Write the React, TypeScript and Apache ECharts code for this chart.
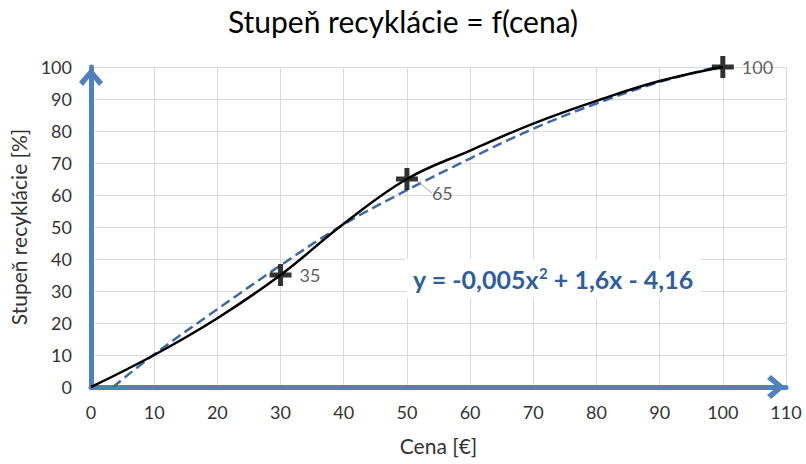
import React, { useEffect, useRef } from "react";
import * as echarts from "echarts";

const titleText = "Stupeň recyklácie = f(cena)";
const xAxisName = "Cena [€]";
const yAxisName = "Stupeň recyklácie [%]";

const curveX = [0, 10, 20, 30, 40, 50, 60, 70, 80, 90, 100];
const curveY = [0, 10, 21.5, 35, 51, 65, 73.9, 82.3, 89.4, 95.6, 100];

// points marked with "+"
const markX = [30, 50, 100];
const markY = [35, 65, 100];

// polynomial trendline
const trendX = [3.5, 10, 20, 30, 40, 50, 60, 70, 80, 90, 100];
const trendY = [0, 10.2, 24.3, 38, 50.8, 61.5, 71.4, 80.7, 88.6, 95.3, 100.5];

const equation = "y = -0,005x{s|2} + 1,6x - 4,16";

const FONT = "Lato, 'Open Sans', sans-serif";
const TEXT = "#333333";
const AXIS_BLUE = "#4F81BD";
const arrow = "path://M12,0 L24,14 L20,18 L12,8 L4,18 L0,14 Z";
const plus = "path://M8.5,0 H13.5 V8.5 H22 V13.5 H13.5 V22 H8.5 V13.5 H0 V8.5 H8.5 Z";

export default function App() {
  const ref = useRef<HTMLDivElement>(null);
  useEffect(() => {
    if (!ref.current) return;
    const chart = echarts.init(ref.current, null, { renderer: "svg" });
    const axisCommon = {
      type: "value" as const,
      axisLine: {
        show: true,
        onZero: false,
        symbol: ["none", arrow],
        symbolSize: [24, 20],
        symbolOffset: [0, -10],
        lineStyle: { color: AXIS_BLUE, width: 5 },
      },
      axisTick: { show: false },
      splitLine: { show: true, lineStyle: { color: "#d9d9d9", width: 1 } },
      axisLabel: { color: TEXT, fontSize: 18, fontFamily: FONT },
      nameTextStyle: { color: TEXT, fontSize: 21, fontFamily: FONT },
    };
    chart.setOption({
      animation: false,
      title: {
        text: titleText,
        left: "center",
        top: 1,
        textStyle: { fontFamily: FONT, fontSize: 30, fontWeight: "normal", color: "#000" },
      },
      grid: { left: 91, right: 20, top: 67, bottom: 77, containLabel: false },
      xAxis: {
        ...axisCommon,
        min: 0,
        max: 110,
        interval: 10,
        name: xAxisName,
        nameLocation: "middle",
        nameGap: 48,
        axisLabel: { ...axisCommon.axisLabel, margin: 16 },
      },
      yAxis: {
        ...axisCommon,
        min: 0,
        max: 100,
        interval: 10,
        name: yAxisName,
        nameLocation: "middle",
        nameGap: 62,
        axisLabel: { ...axisCommon.axisLabel, margin: 19 },
      },
      series: [
        {
          type: "line",
          data: trendX.map((x, i) => [x, trendY[i]]),
          smooth: 0.4,
          showSymbol: false,
          lineStyle: { color: "#3A6AA8", width: 2.5, type: [10, 5] },
          z: 2,
        },
        {
          type: "line",
          data: curveX.map((x, i) => [x, curveY[i]]),
          smooth: 0.4,
          showSymbol: false,
          lineStyle: { color: "#000", width: 2.5 },
          z: 3,
        },
        {
          type: "scatter",
          symbol: plus,
          symbolSize: 22,
          itemStyle: { color: "#000" },
          z: 4,
          label: {
            show: true,
            position: "right",
            distance: 8,
            color: TEXT,
            fontSize: 18,
            fontFamily: FONT,
            formatter: (p: any) => String(p.value[1]),
          },
          labelLayout: (p: any) => (p.dataIndex === 1 ? { dx: 6, dy: 14 } : {}),
          data: markX.map((x, i) =>
            i === 1
              ? {
                  value: [x, markY[i]],
                  labelLine: { show: true, lineStyle: { color: "#a6a6a6", width: 1 } },
                }
              : { value: [x, markY[i]] }
          ),
        },
      ],
      graphic: [
        {
          type: "text",
          left: 406,
          top: 259,
          z: 10,
          style: {
            text: equation,
            fill: "#2F5E9E",
            font: `bold 25px ${FONT}`,
            backgroundColor: "#fff",
            padding: [6, 8, 6, 7],
            rich: {
              s: { fontSize: 15, fontWeight: "bold", fill: "#2F5E9E", fontFamily: FONT, verticalAlign: "top", padding: [0, 0, 12, 0] },
            },
          },
        },
      ],
    });
    return () => chart.dispose();
  }, []);
  return (
    <div
      ref={ref}
      style={{ position: "fixed", left: 0, top: 0, width: 806, height: 464, background: "#fff" }}
    />
  );
}
